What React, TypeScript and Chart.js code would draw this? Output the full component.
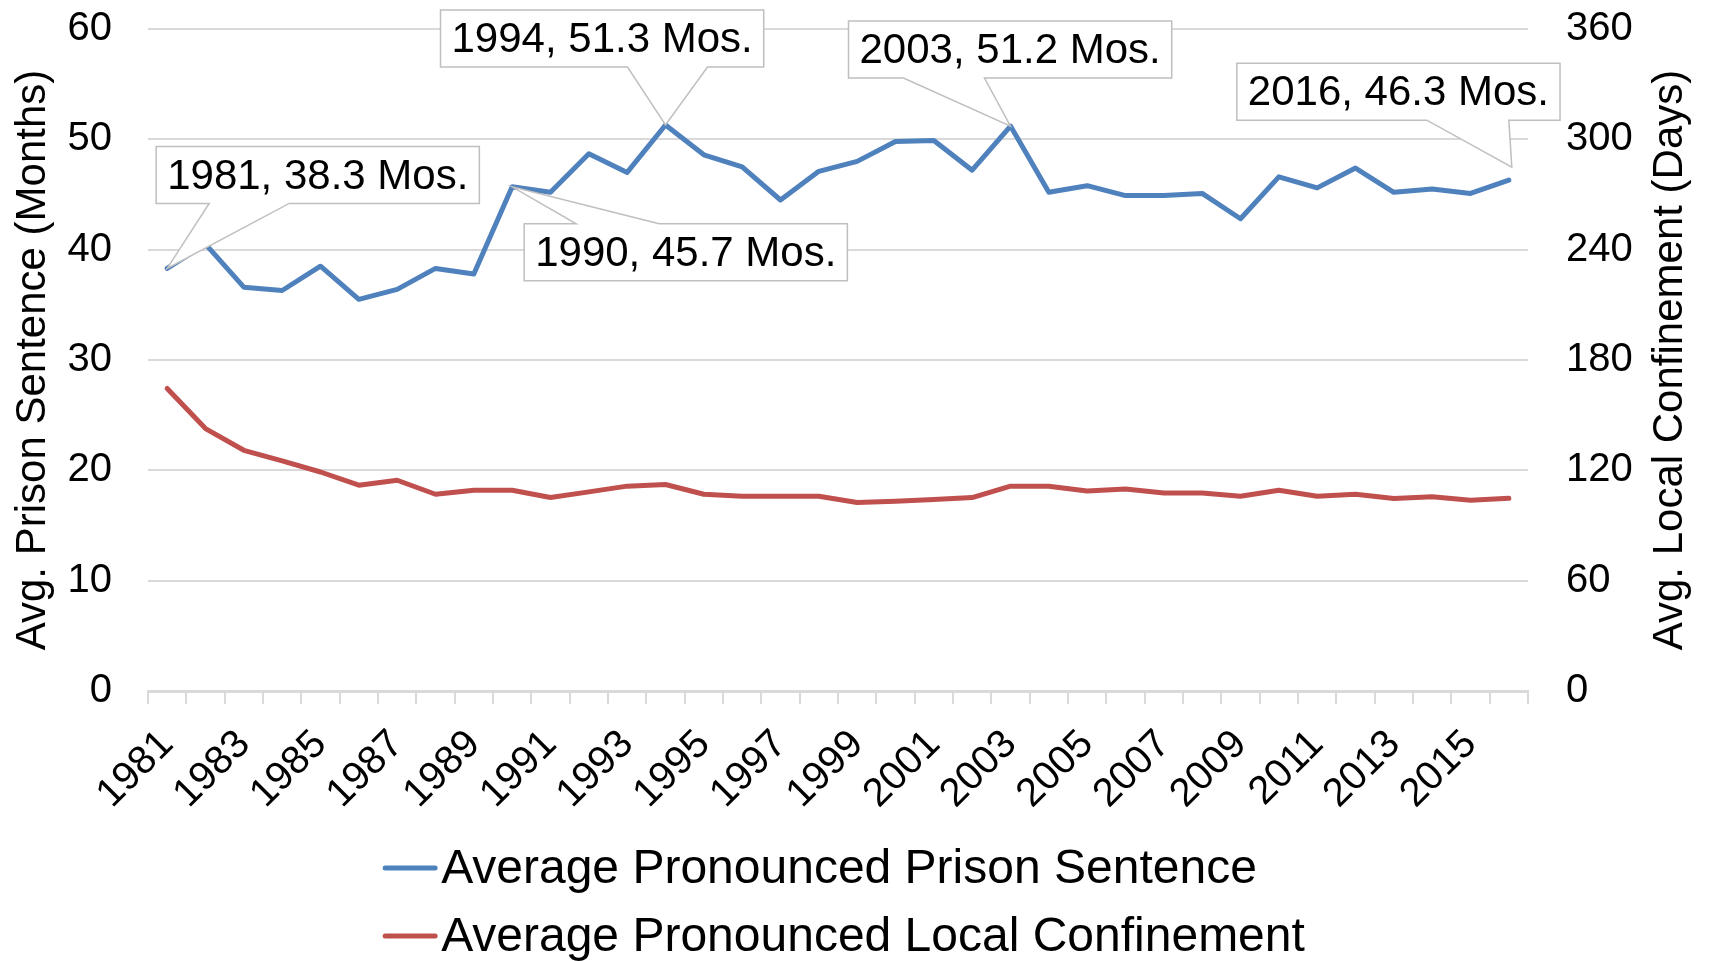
import React, { useEffect, useRef } from 'react';
import { Chart, registerables } from 'chart.js';

Chart.register(...registerables);

const years = ['1981','1982','1983','1984','1985','1986','1987','1988','1989','1990','1991','1992','1993','1994','1995','1996','1997','1998','1999','2000','2001','2002','2003','2004','2005','2006','2007','2008','2009','2010','2011','2012','2013','2014','2015','2016'];

const prisonMonths = [38.3, 40.5, 36.6, 36.3, 38.5, 35.5, 36.4, 38.3, 37.8, 45.7, 45.2, 48.7, 47.0, 51.3, 48.6, 47.5, 44.5, 47.1, 48.0, 49.8, 49.9, 47.2, 51.2, 45.2, 45.8, 44.9, 44.9, 45.1, 42.8, 46.6, 45.6, 47.4, 45.2, 45.5, 45.1, 46.3];

const localDays = [164.5, 142.7, 130.9, 125.1, 119.1, 111.9, 114.6, 107.0, 109.2, 109.2, 105.2, 108.3, 111.4, 112.3, 107.0, 105.9, 105.9, 105.9, 102.5, 103.2, 104.2, 105.2, 111.4, 111.4, 108.8, 109.9, 107.7, 107.7, 105.9, 109.2, 105.9, 107.0, 104.7, 105.6, 103.7, 104.8];

const seriesNames = ['Average Pronounced Prison Sentence', 'Average Pronounced Local Confinement'];
const leftAxisTitle = 'Avg. Prison Sentence (Months)';
const rightAxisTitle = 'Avg. Local Confinement (Days)';

const calloutYears = ['1981', '1990', '1994', '2003', '2016'];
const calloutTexts = ['1981, 38.3 Mos.', '1990, 45.7 Mos.', '1994, 51.3 Mos.', '2003, 51.2 Mos.', '2016, 46.3 Mos.'];

// Callout box placement (styling only): box offset from the anchored point, wedge base along box edge
const calloutLayout = [
  { dx: -11, dy: -122, edge: 'bottom', w0: 53, w1: 133, tx: 0, ty: 0 },
  { dx: 12, dy: 37, edge: 'top', w0: 52, w1: 135, tx: 0, ty: 0 },
  { dx: -225, dy: -115, edge: 'bottom', w0: 187, w1: 267, tx: 0, ty: 0 },
  { dx: -162, dy: -105, edge: 'bottom', w0: 55, w1: 136, tx: 0, ty: 0 },
  { dx: -272, dy: -117, edge: 'bottom', w0: 190, w1: 272, tx: 3, ty: -13 },
];

const FONT = '"Liberation Sans", Arial, Helvetica, sans-serif';
const BLUE = '#4f81bd';
const RED = '#c0504d';
const GRID = '#d9d9d9';

const calloutPlugin = {
  id: 'callouts',
  afterDatasetsDraw(chart: any) {
    const ctx = chart.ctx;
    const xs = chart.scales.x;
    const ys = chart.scales.y;
    ctx.save();
    ctx.font = `42px ${FONT}`;
    calloutYears.forEach((yr, i) => {
      const idx = years.indexOf(yr);
      const px = xs.getPixelForValue(idx);
      const py = ys.getPixelForValue(prisonMonths[idx]);
      const L = calloutLayout[i];
      const text = calloutTexts[i];
      const tw = ctx.measureText(text).width;
      const w = tw + 22;
      const h = 57;
      const x0 = px + L.dx;
      const y0 = py + L.dy;
      const x1 = x0 + w;
      const y1 = y0 + h;
      const tx = px + L.tx;
      const ty = py + L.ty;
      ctx.beginPath();
      if (L.edge === 'bottom') {
        ctx.moveTo(x0, y0);
        ctx.lineTo(x1, y0);
        ctx.lineTo(x1, y1);
        ctx.lineTo(x0 + L.w1, y1);
        ctx.lineTo(tx, ty);
        ctx.lineTo(x0 + L.w0, y1);
        ctx.lineTo(x0, y1);
      } else {
        ctx.moveTo(x0, y0);
        ctx.lineTo(x0 + L.w0, y0);
        ctx.lineTo(tx, ty);
        ctx.lineTo(x0 + L.w1, y0);
        ctx.lineTo(x1, y0);
        ctx.lineTo(x1, y1);
        ctx.lineTo(x0, y1);
      }
      ctx.closePath();
      ctx.fillStyle = '#ffffff';
      ctx.fill();
      ctx.strokeStyle = '#bfbfbf';
      ctx.lineWidth = 1.5;
      ctx.stroke();
      ctx.fillStyle = '#000000';
      ctx.textAlign = 'center';
      ctx.textBaseline = 'middle';
      ctx.fillText(text, (x0 + x1) / 2, (y0 + y1) / 2 + 2);
    });
    ctx.restore();
  },
};

const legendPlugin = {
  id: 'bottomLegend',
  afterDraw(chart: any) {
    const ctx = chart.ctx;
    const ca = chart.chartArea;
    ctx.save();
    // right axis title, reading bottom-to-top
    ctx.font = `42px ${FONT}`;
    ctx.fillStyle = '#000';
    ctx.textAlign = 'center';
    ctx.textBaseline = 'middle';
    ctx.translate(chart.width - 41, (ca.top + ca.bottom) / 2);
    ctx.rotate(-Math.PI / 2);
    ctx.fillText(rightAxisTitle, 0, 0);
    ctx.setTransform(1, 0, 0, 1, 0, 0);
    ctx.restore();

    ctx.save();
    ctx.font = `48px ${FONT}`;
    const ds = chart.data.datasets;
    const widths = ds.map((d: any) => ctx.measureText(d.label).width);
    const lineW = 54;
    const gap = 4;
    const blockW = lineW + gap + Math.max(...widths);
    const left = (ca.left + ca.right) / 2 - blockW / 2 + 6;
    const rowY = [chart.height - 93, chart.height - 25];
    ds.forEach((d: any, i: number) => {
      const y = rowY[i];
      ctx.strokeStyle = d.borderColor;
      ctx.lineWidth = 5;
      ctx.lineCap = 'round';
      ctx.beginPath();
      ctx.moveTo(left + 2, y);
      ctx.lineTo(left + lineW - 2, y);
      ctx.stroke();
      ctx.fillStyle = '#000';
      ctx.textAlign = 'left';
      ctx.textBaseline = 'middle';
      ctx.fillText(d.label, left + lineW + gap, y + 2);
    });
    ctx.restore();
  },
};

export default function App() {
  const canvasRef = useRef<HTMLCanvasElement | null>(null);

  useEffect(() => {
    if (!canvasRef.current) return;
    const tickFont = { size: 40, family: FONT };
    const titleFont = { size: 42, family: FONT };
    const chart = new Chart(canvasRef.current, {
      type: 'line',
      data: {
        labels: years,
        datasets: [
          {
            label: seriesNames[0],
            data: prisonMonths,
            borderColor: BLUE,
            backgroundColor: BLUE,
            yAxisID: 'y',
          },
          {
            label: seriesNames[1],
            data: localDays,
            borderColor: RED,
            backgroundColor: RED,
            yAxisID: 'y1',
          },
        ],
      },
      options: {
        animation: false,
        responsive: true,
        maintainAspectRatio: false,
        layout: { padding: { top: 29, bottom: 141, left: 0, right: 0 } },
        plugins: {
          legend: { display: false },
          tooltip: { enabled: false },
        },
        elements: {
          point: { radius: 0, hoverRadius: 0 },
          line: { tension: 0, borderWidth: 5, borderCapStyle: 'round', borderJoinStyle: 'round' },
        },
        scales: {
          x: {
            type: 'category',
            offset: true,
            grid: { offset: true, drawOnChartArea: false, drawTicks: true, tickLength: 13, color: GRID, lineWidth: 2 },
            border: { display: true, color: GRID, width: 3 },
            ticks: {
              autoSkip: false,
              maxRotation: 45,
              minRotation: 45,
              padding: 17,
              color: '#000',
              font: tickFont,
              callback: (_v: any, i: number) => (i % 2 === 0 ? years[i] : ''),
            },
            afterFit: (s: any) => { s.height = 129; },
          },
          y: {
            position: 'left',
            min: 0,
            max: 60,
            ticks: { stepSize: 10, padding: 2, color: '#000', font: tickFont },
            grid: { color: GRID, lineWidth: 2, drawTicks: true, tickLength: 34, tickColor: 'rgba(0,0,0,0)' },
            border: { display: false },
            title: { display: true, text: leftAxisTitle, color: '#000', font: titleFont, padding: { top: 8, bottom: 0 } },
            afterFit: (s: any) => { s.width = 148; },
          },
          y1: {
            position: 'right',
            min: 0,
            max: 360,
            ticks: { stepSize: 60, padding: 2, color: '#000', font: tickFont },
            grid: { drawOnChartArea: false, drawTicks: true, tickLength: 36, tickColor: 'rgba(0,0,0,0)' },
            border: { display: false },
            title: { display: false },
            afterFit: (s: any) => { s.width = 183; },
          },
        },
      },
      plugins: [calloutPlugin, legendPlugin],
    } as any);
    return () => chart.destroy();
  }, []);

  return (
    <div style={{ position: 'fixed', left: 0, top: 0, width: 1711, height: 961, background: '#fff' }}>
      <canvas ref={canvasRef} />
    </div>
  );
}
